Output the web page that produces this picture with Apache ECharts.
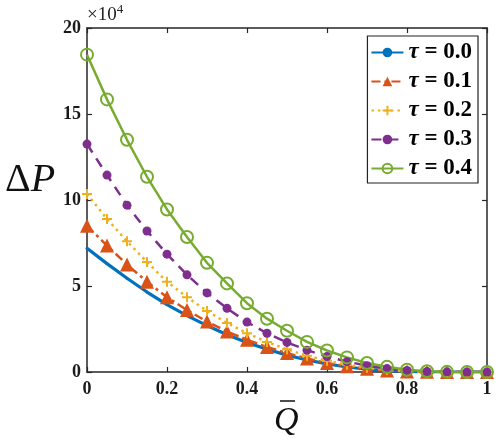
<!DOCTYPE html>
<html><head><meta charset="utf-8">
<script src="https://cdn.jsdelivr.net/npm/echarts@6/dist/echarts.min.js"></script>
<style>html,body{margin:0;padding:0;background:#fff}#c{width:500px;height:441px}</style>
</head><body><div id="c"></div>
<script>
const qValues = [0,0.05,0.1,0.15,0.2,0.25,0.3,0.35,0.4,0.45,0.5,0.55,0.6,0.65,0.7,0.75,0.8,0.85,0.9,0.95,1];
const tau00 = [7.2,6.3,5.45,4.65,3.92,3.28,2.7,2.17,1.72,1.32,0.98,0.7,0.47,0.29,0.16,0.08,0.03,0.01,0,0,0];
const tau01 = [8.5,7.35,6.25,5.25,4.35,3.6,2.93,2.35,1.88,1.45,1.1,0.78,0.52,0.33,0.19,0.09,0.03,0.01,0,0,0];
const tau02 = [10.35,8.9,7.6,6.4,5.25,4.35,3.55,2.85,2.25,1.75,1.32,0.95,0.65,0.42,0.24,0.12,0.05,0.01,0,0,0];
const tau03 = [13.25,11.45,9.7,8.2,6.85,5.65,4.6,3.7,2.9,2.25,1.72,1.27,0.9,0.6,0.37,0.2,0.09,0.03,0.01,0,0];
const tau04 = [18.45,15.85,13.5,11.35,9.45,7.85,6.35,5.15,4.0,3.1,2.4,1.75,1.25,0.85,0.52,0.3,0.13,0.04,0.01,0,0];
const seriesNames = ['0.0','0.1','0.2','0.3','0.4'];
const xTicks = [0,0.2,0.4,0.6,0.8,1];
const yTicks = [0,5,10,15,20];

const pair = arr => qValues.map((q,i)=>[q,arr[i]]);
const axisColor = '#262626';
const labelFont = {fontFamily:'Liberation Serif', fontWeight:'bold', fontSize:18, color:'#1a1a1a'};

const chart = echarts.init(document.getElementById('c'), null, {renderer:'canvas'});
const base = {type:'line', showAllSymbol:true, animation:false, z:2};
chart.setOption({
  animation:false,
  backgroundColor:'#fff',
  grid:{left:87, right:13, top:28, bottom:69, containLabel:false},
  xAxis:[
    {type:'value', min:0, max:1, interval:0.2, position:'bottom',
     axisLine:{show:true, onZero:false, lineStyle:{color:axisColor, width:1.5}},
     axisTick:{show:true, inside:true, length:5, lineStyle:{color:axisColor, width:1.2}},
     splitLine:{show:false},
     axisLabel:Object.assign({margin:8, formatter:v=>xTicks.includes(Math.round(v*10)/10)?String(Math.round(v*10)/10):''}, labelFont)},
    {type:'value', min:0, max:1, interval:0.2, position:'top',
     axisLine:{show:true, onZero:false, lineStyle:{color:axisColor, width:1.5}},
     axisTick:{show:true, inside:true, length:5, lineStyle:{color:axisColor, width:1.2}},
     splitLine:{show:false}, axisLabel:{show:false}}
  ],
  yAxis:[
    {type:'value', min:0, max:20, interval:5, position:'left',
     axisLine:{show:true, onZero:false, lineStyle:{color:axisColor, width:1.5}},
     axisTick:{show:true, inside:true, length:5, lineStyle:{color:axisColor, width:1.2}},
     splitLine:{show:false},
     axisLabel:Object.assign({margin:6, formatter:v=>yTicks.includes(v)?String(v):''}, labelFont)},
    {type:'value', min:0, max:20, interval:5, position:'right',
     axisLine:{show:true, onZero:false, lineStyle:{color:axisColor, width:1.5}},
     axisTick:{show:true, inside:true, length:5, lineStyle:{color:axisColor, width:1.2}},
     splitLine:{show:false}, axisLabel:{show:false}}
  ],
  legend:{
    orient:'vertical', right:22, top:36,
    backgroundColor:'#fff', borderColor:'#222', borderWidth:1.2,
    padding:[5,6,3,3], itemGap:6, itemWidth:32, itemHeight:12,
    data:seriesNames.map(n=>'τ = '+n),
    formatter:name=>'{i|τ}{b| = '+name.slice(4)+'}',
    textStyle:{fontFamily:'Liberation Serif', fontWeight:'bold', fontSize:23, color:'#000', lineHeight:22,
      rich:{i:{fontFamily:'Liberation Serif', fontStyle:'italic', fontWeight:'bold', fontSize:23, color:'#000'},
            b:{fontFamily:'Liberation Serif', fontWeight:'bold', fontSize:23, color:'#000'}}}
  },
  graphic:[
    {type:'text', left:87, top:3, style:{
      text:'{a|×10}{s|4}', rich:{a:{fontFamily:'Liberation Serif', fontSize:19, fill:'#222', verticalAlign:'bottom'},
      s:{fontFamily:'Liberation Serif', fontSize:13, fill:'#222', verticalAlign:'top', padding:[0,0,9,0]}}}},
    {type:'text', left:5, top:160, style:{
      text:'{d|Δ}{p|P}', rich:{d:{fontFamily:'Liberation Serif', fontSize:40, fill:'#111'},
      p:{fontFamily:'Liberation Serif', fontStyle:'italic', fontSize:40, fill:'#111'}}}},
    {type:'text', left:274, top:404, style:{text:'Q', fontFamily:'Liberation Serif', fontStyle:'italic', fontSize:34, fill:'#111'}},
    {type:'line', shape:{x1:280, y1:401, x2:295, y2:401}, style:{stroke:'#111', lineWidth:1.5}}
  ],
  series:[
    Object.assign({}, base, {name:'τ = 0.0', data:pair(tau00), color:'#0072BD',
      symbol:'circle', symbolSize:3, lineStyle:{width:3.2, color:'#0072BD'}, itemStyle:{color:'#0072BD'}}),
    Object.assign({}, base, {name:'τ = 0.1', data:pair(tau01), color:'#D95319',
      symbol:'triangle', symbolSize:14, lineStyle:{width:2.5, color:'#D95319', type:[9,4,3,4]}, itemStyle:{color:'#D95319'}}),
    Object.assign({}, base, {name:'τ = 0.2', data:pair(tau02), color:'#EDB120',
      symbol:'path://M4,0H6V4H10V6H6V10H4V6H0V4H4Z', symbolSize:10, lineStyle:{width:2.5, color:'#EDB120', type:[2.5,4]}, itemStyle:{color:'#EDB120'}}),
    Object.assign({}, base, {name:'τ = 0.3', data:pair(tau03), color:'#7E2F8E',
      symbol:'circle', symbolSize:9, lineStyle:{width:2.5, color:'#7E2F8E', type:[10,7]}, itemStyle:{color:'#7E2F8E'}}),
    Object.assign({}, base, {name:'τ = 0.4', data:pair(tau04), color:'#77AC30',
      symbol:'circle', symbolSize:12, lineStyle:{width:2.5, color:'#77AC30'}, itemStyle:{color:'rgba(255,255,255,0)', borderColor:'#77AC30', borderWidth:2}})
  ]
});
</script></body></html>
